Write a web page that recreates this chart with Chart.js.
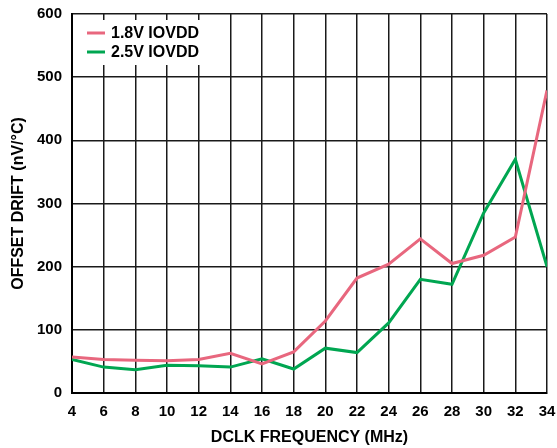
<!DOCTYPE html>
<html><head><meta charset="utf-8">
<script src="https://cdn.jsdelivr.net/npm/chart.js@4/dist/chart.umd.min.js"></script>
<style>html,body{margin:0;padding:0;background:#fff}#wrap{width:557px;height:448px}</style>
</head><body><div id="wrap"><canvas id="c" width="557" height="448"></canvas></div>
<script>
const freqs = [4,6,8,10,12,14,16,18,20,22,24,26,28,30,32,34];
const drift18 = [57,53,52,51,53,63,46,65,114,182,204,244,205,218,247,479];
const drift25 = [53,41,37,44,43,41,54,38,71,64,111,180,172,285,370,200];
const xTicks = [4,6,8,10,12,14,16,18,20,22,24,26,28,30,32,34];
const yTicks = [0,100,200,300,400,500,600];
const labels = ['1.8V IOVDD','2.5V IOVDD'];
const colors = ['#e8677e','#00a651'];

const FONT = '"Liberation Sans", Arial, sans-serif';

const legendPlugin = {
  id: 'boxLegend',
  beforeDatasetsDraw(chart){
    const ctx = chart.ctx, a = chart.chartArea;
    ctx.save();
    ctx.fillStyle = '#fff';
    ctx.fillRect(a.left+3, a.top+6, 132, 45);
    ctx.font = 'bold 16px ' + FONT;
    ctx.textBaseline = 'middle';
    chart.data.datasets.forEach((ds,i)=>{
      const y = a.top + 19 + i*19;
      ctx.strokeStyle = ds.borderColor;
      ctx.lineWidth = 3;
      ctx.beginPath(); ctx.moveTo(a.left+15, y); ctx.lineTo(a.left+33, y); ctx.stroke();
      ctx.fillStyle = '#000';
      ctx.fillText(ds.label, a.left+39, y+1);
    });
    ctx.restore();
  }
};

new Chart(document.getElementById('c'), {
  type: 'line',
  data: {
    datasets: [
      {label: labels[0], data: freqs.map((f,i)=>({x:f,y:drift18[i]})), borderColor: colors[0], borderWidth: 3, pointRadius: 0, fill:false, tension:0},
      {label: labels[1], data: freqs.map((f,i)=>({x:f,y:drift25[i]})), borderColor: colors[1], borderWidth: 3, pointRadius: 0, fill:false, tension:0}
    ]
  },
  options: {
    responsive: false,
    animation: false,
    devicePixelRatio: 1,
    layout: {padding: {top: 14, right: 10, left: 0, bottom: 0}},
    plugins: {legend: {display: false}, tooltip: {enabled: false}},
    scales: {
      x: {
        type: 'linear', min: 4, max: 34,
        afterBuildTicks(s){ s.ticks = xTicks.map(v=>({value:v})); },
        afterFit(s){ s.height = 55; s.paddingLeft = 0; s.paddingRight = 0; },
        grid: {color: '#1a1a1a', lineWidth: 1.5, drawTicks: false},
        border: {color: '#000', width: 2},
        ticks: {color: '#000', font: {family: FONT, size: 15, weight: 'bold'}, padding: 10, maxRotation: 0, autoSkip: false},
        title: {display: true, text: 'DCLK FREQUENCY (MHz)', color: '#000', font: {family: FONT, size: 16, weight: 'bold'}, padding: {top: 0, bottom: 1}}
      },
      y: {
        min: 0, max: 600,
        afterBuildTicks(s){ s.ticks = yTicks.map(v=>({value:v})); },
        afterFit(s){ s.width = 72; s.paddingTop = 0; s.paddingBottom = 0; },
        grid: {color: '#1a1a1a', lineWidth: 1.5, drawTicks: false},
        border: {color: '#000', width: 2},
        ticks: {color: '#000', font: {family: FONT, size: 15, weight: 'bold'}, padding: 10, autoSkip: false},
        title: {display: true, text: 'OFFSET DRIFT (nV/°C)', color: '#000', font: {family: FONT, size: 16, weight: 'bold'}, padding: {top: 9, bottom: 0}}
      }
    }
  },
  plugins: [legendPlugin]
});
</script>
</body></html>
